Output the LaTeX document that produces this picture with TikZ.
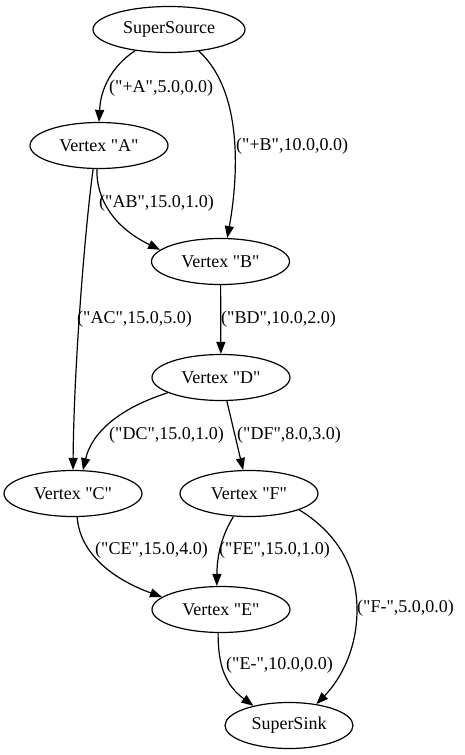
\documentclass[tikz,border=0pt]{standalone}
\usepackage{fontspec}
\setmainfont{Liberation Serif}
\setmonofont{Liberation Serif}
\usetikzlibrary{shapes.geometric,arrows.meta}
\begin{document}
\begin{tikzpicture}[x=1pt,y=-1pt,
  vtx/.style={ellipse,draw,line width=1.2pt,minimum width=138pt,minimum height=46pt,inner sep=0pt,font=\ttfamily\fontsize{18}{20}\selectfont},
  lbl/.style={inner sep=0pt,anchor=west,font=\ttfamily\fontsize{18}{20}\selectfont},
  edge/.style={draw,line width=1.2pt,-{Triangle[length=12pt,width=9pt]}}]
\useasboundingbox (0,0) rectangle (464,755);
% nodes
\node[vtx,minimum width=152pt] (ss) at (169,29.5) {SuperSource};
\node[vtx] (a) at (99,145.5) {Vertex "A"};
\node[vtx] (b) at (220.5,261.5) {Vertex "B"};
\node[vtx] (d) at (221,377.5) {Vertex "D"};
\node[vtx] (c) at (73,493.5) {Vertex "C"};
\node[vtx] (f) at (249,493.5) {Vertex "F"};
\node[vtx] (e) at (221,609.5) {Vertex "E"};
\node[vtx,minimum width=128pt] (sink) at (289,725.5) {SuperSink};
% edges
\draw[edge] (ss.-148) .. controls (118,62) and (101,82) .. (a.90);
\draw[edge] (ss.-36) .. controls (247,95) and (236,190) .. (b.74);
\draw[edge] (a.-95) .. controls (96,200) and (115,228) .. (b.169);
\draw[edge] (a.-104) .. controls (86,220) and (74,360) .. (c.90);
\draw[edge] (b) -- (d);
\draw[edge] (d.-164) .. controls (120,408) and (92,432) .. (c.67);
\draw[edge] (d.-76) -- (f.104);
\draw[edge] (c.-80) .. controls (80,555) and (115,580) .. (e.168);
\draw[edge] (f.-124) .. controls (222,535) and (217,555) .. (e.100);
\draw[edge] (f.-18) .. controls (340,535) and (357,570) .. (357,610) .. controls (357,650) and (340,680) .. (sink.38);
\draw[edge] (e.-97) .. controls (218,665) and (225,685) .. (sink.151);
% labels
\node[lbl] (lA) at (109,88) {("+A",5.0,0.0)};
\node[lbl] (lB) at (236,146) {("+B",10.0,0.0)};
\node[lbl] (lAB) at (99,203) {("AB",15.0,1.0)};
\node[lbl] (lAC) at (77,319) {("AC",15.0,5.0)};
\node[lbl] (lBD) at (221,319) {("BD",10.0,2.0)};
\node[lbl] (lDC) at (109,435) {("DC",15.0,1.0)};
\node[lbl] (lDF) at (237,435) {("DF",8.0,3.0)};
\node[lbl] (lCE) at (95,550) {("CE",15.0,4.0)};
\node[lbl] (lFE) at (219,550) {("FE",15.0,1.0)};
\node[lbl] (lF) at (357,608) {("F-",5.0,0.0)};
\node[lbl] (lE) at (226,665) {("E-",10.0,0.0)};
\end{tikzpicture}
\end{document}
